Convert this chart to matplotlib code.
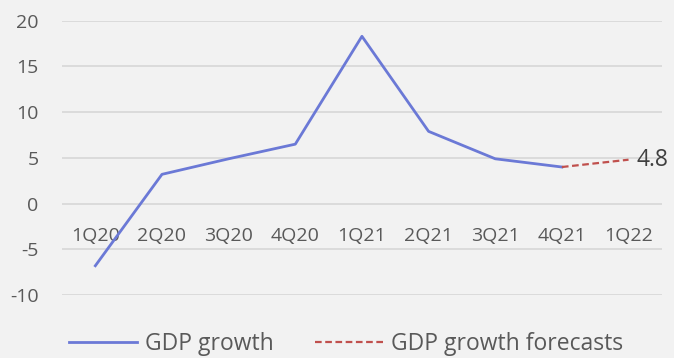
import matplotlib.pyplot as plt

# quarterly GDP growth (%) and forecast
quarters = ['1Q20', '2Q20', '3Q20', '4Q20', '1Q21', '2Q21', '3Q21', '4Q21', '1Q22']
gdp_growth = [-6.8, 3.2, 4.9, 6.5, 18.3, 7.9, 4.9, 4.0]
forecast_quarters = ['4Q21', '1Q22']
gdp_forecast = [4.0, 4.8]
y_ticks = [-10, -5, 0, 5, 10, 15, 20]

bg = '#f2f2f2'
txt = '#595959'
plt.rcParams['font.family'] = ['Open Sans', 'DejaVu Sans']
plt.rcParams['axes.unicode_minus'] = False

fig = plt.figure(figsize=(6.74, 3.58), dpi=100, facecolor=bg)
ax = fig.add_axes([0.092, 0.176, 0.890, 0.766], facecolor=bg)

xpos = {q: i for i, q in enumerate(quarters)}
ax.plot([xpos[q] for q in quarters[:len(gdp_growth)]], gdp_growth,
        color='#6b79d6', lw=2, label='GDP growth')
ax.plot([xpos[q] for q in forecast_quarters], gdp_forecast,
        color='#c0504d', lw=1.6, ls=(0, (3, 1.6)), label='GDP growth forecasts')

# value label on the last forecast point
ax.annotate(f'{gdp_forecast[-1]}', (xpos[forecast_quarters[-1]], gdp_forecast[-1]),
            xytext=(6, 0), textcoords='offset points', va='center', ha='left',
            fontsize=16.5, color='#404040')

ax.set_xlim(-0.5, len(quarters) - 0.5)
ax.set_ylim(-10, 20)
ax.set_yticks(y_ticks)
ax.set_xticks(range(len(quarters)))
ax.set_xticklabels(quarters)
ax.yaxis.grid(True, color='#d9d9d9', lw=1.3)
ax.set_axisbelow(True)

for s in ['top', 'right', 'left']:
    ax.spines[s].set_visible(False)
ax.spines['bottom'].set_position(('data', 0))
ax.spines['bottom'].set_visible(False)
ax.tick_params(axis='x', length=0, pad=17, labelsize=14, labelcolor=txt)
ax.tick_params(axis='y', length=0, pad=17, labelsize=14, labelcolor=txt)

fig.legend(loc='center', bbox_to_anchor=(0.513, 0.038), ncol=2, frameon=False,
           fontsize=16.5, labelcolor=txt, handlelength=3.0, columnspacing=1.8,
           handletextpad=0.32, borderpad=0.2)

fig.savefig('out.png', dpi=100, facecolor=bg)
